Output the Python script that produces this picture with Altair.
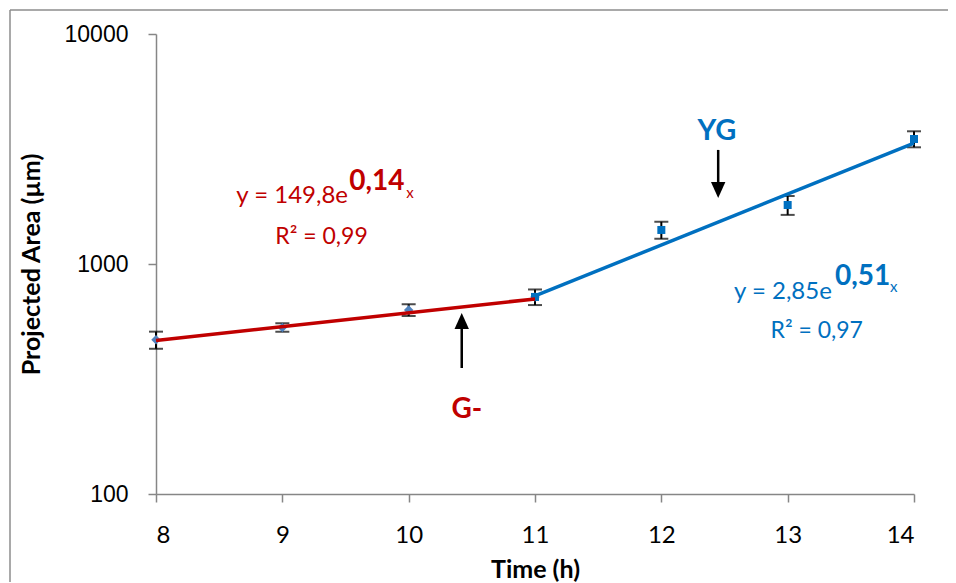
import altair as alt
import pandas as pd

# ---- data ----
times = [8, 9, 10, 11, 12, 13, 14]
area = [468, 530, 631, 719, 1406, 1805, 3496]
err = [40, 22, 37, 56, 120, 170, 280]
series1_t = [8, 9, 10, 11]          # G- phase (diamonds)
series2_t = [11, 12, 13, 14]        # YG phase (squares)

# exponential fit lines (end points)
fit_g_t = [8, 11]
fit_g_v = [465, 705]
fit_yg_t = [11, 14]
fit_yg_v = [726, 3357]

# arrows (shaft start, head position)
arrow_g = {"t": 10.42, "v0": 353, "head": 565}
arrow_yg = {"t": 12.45, "v0": 3133, "head": 2098}

RED = "#C00000"
BLUE = "#0070C0"
DIAM = "#4F81BD"
FONT = "Lato"

df = pd.DataFrame({"t": times, "v": area, "e": err})
df["lo"] = df["v"] - df["e"]
df["hi"] = df["v"] + df["e"]

x_enc = alt.X("t:Q", scale=alt.Scale(domain=[8, 14], nice=False),
              axis=alt.Axis(values=times, title="Time (h)", format="d",
                            labelPadding=21, titlePadding=10,
                            labelFont=FONT, labelFontSize=24))
y_enc = alt.Y("v:Q", scale=alt.Scale(type="log", domain=[100, 10000], nice=False),
              axis=alt.Axis(values=[100, 1000, 10000], format="d",
                            title="Projected Area (µm)", labelPadding=20,
                            titlePadding=20, labelFont="Liberation Sans",
                            labelFontSize=23))

base = alt.Chart(df)

err_rule = base.mark_rule(color="black", strokeWidth=2).encode(
    x=x_enc, y=y_enc, y2="hi:Q").transform_calculate(v="datum.lo")
cap_lo = base.mark_tick(color="black", orient="horizontal", size=14,
                        thickness=2).encode(x=x_enc, y=y_enc).transform_calculate(v="datum.lo")
cap_hi = base.mark_tick(color="black", orient="horizontal", size=14,
                        thickness=2).encode(x=x_enc, y=y_enc).transform_calculate(v="datum.hi")

pts1 = base.transform_filter(alt.FieldOneOfPredicate(field="t", oneOf=series1_t)).mark_point(
    shape="diamond", filled=True, color=DIAM, size=90, opacity=1).encode(x=x_enc, y=y_enc)
pts2 = base.transform_filter(alt.FieldOneOfPredicate(field="t", oneOf=series2_t)).mark_point(
    shape="square", filled=True, color=BLUE, size=64, opacity=1).encode(x=x_enc, y=y_enc)

fit_g = alt.Chart(pd.DataFrame({"t": fit_g_t, "v": fit_g_v})).mark_line(
    color=RED, strokeWidth=3.5).encode(x=x_enc, y=y_enc)
fit_yg = alt.Chart(pd.DataFrame({"t": fit_yg_t, "v": fit_yg_v})).mark_line(
    color=BLUE, strokeWidth=3.5).encode(x=x_enc, y=y_enc)

arr_df = pd.DataFrame({
    "t": [arrow_g["t"], arrow_yg["t"]],
    "v": [arrow_g["v0"], arrow_yg["v0"]],
    "h": [arrow_g["head"], arrow_yg["head"]],
})
shafts = alt.Chart(arr_df).mark_rule(color="black", strokeWidth=2.5).encode(
    x=x_enc, y=y_enc, y2="h:Q")
head_up = alt.Chart(arr_df.iloc[[0]]).mark_point(
    shape="M0,-1L0.9,1L-0.9,1Z", filled=True, color="black", size=256, opacity=1
).encode(x=x_enc, y=alt.Y("h:Q"))
head_dn = alt.Chart(arr_df.iloc[[1]]).mark_point(
    shape="M0,1L0.9,-1L-0.9,-1Z", filled=True, color="black", size=256, opacity=1
).encode(x=x_enc, y=alt.Y("h:Q"))

# ---- text annotations ----
def txt(texts, ts, vs, color, size, weight="normal", align="center"):
    d = pd.DataFrame({"t": ts, "v": vs, "s": texts})
    return alt.Chart(d).mark_text(color=color, font=FONT, fontSize=size,
                                  fontWeight=weight, align=align,
                                  baseline="middle").encode(x=x_enc, y=y_enc, text="s:N")

eq_main_r = txt(["y = 149,8e"], [9.52], [1976], RED, 24, align="right")
eq_exp_r = txt(["0,14"], [9.53], [2273], RED, 28, "bold", "left")
eq_x_r = txt(["x"], [9.98], [2037], RED, 15, align="left")
r2_r = txt(["R² = 0,99"], [9.31], [1311], RED, 23)

eq_main_b = txt(["y = 2,85e"], [13.35], [755], BLUE, 24, align="right")
eq_exp_b = txt(["0,51"], [13.375], [878], BLUE, 28, "bold", "left")
eq_x_b = txt(["x"], [13.81], [794], BLUE, 15, align="left")
r2_b = txt(["R² = 0,97"], [13.23], [511], BLUE, 23)

lab_g = txt(["G-"], [10.46], [232], RED, 28, "bold")
lab_yg = txt(["YG"], [12.44], [3787], BLUE, 29, "bold")

# outer chart-area frame (left and top edges visible in the reference)
frame_l = alt.Chart(pd.DataFrame({"t": [8]})).mark_rule(
    color="#8c8c8c", strokeWidth=1.5).encode(
    x=alt.value(-146), y=alt.value(-24), y2=alt.value(548))
frame_t = alt.Chart(pd.DataFrame({"t": [8]})).mark_rule(
    color="#8c8c8c", strokeWidth=1.5).encode(
    x=alt.value(-146), x2=alt.value(792), y=alt.value(-24))

chart = alt.layer(
    frame_l, frame_t, err_rule, cap_lo, cap_hi, pts1, pts2, fit_g, fit_yg,
    shafts, head_up, head_dn,
    eq_main_r, eq_exp_r, eq_x_r, r2_r, eq_main_b, eq_exp_b, eq_x_b, r2_b,
    lab_g, lab_yg,
).properties(
    width=758, height=460,
    padding={"left": 148, "top": 26, "right": 34, "bottom": 88},
    autosize=alt.AutoSizeParams(type="none"),
).configure_view(stroke=None).configure_axis(
    grid=False, domainColor="#868686", tickColor="#868686", domainWidth=1.5,
    tickWidth=1.5, tickSize=8, labelColor="black", titleColor="black",
    titleFont=FONT, titleFontSize=25, titleFontWeight="bold",
)

chart.save("out.html", embed_options={"renderer": "svg", "actions": False})
